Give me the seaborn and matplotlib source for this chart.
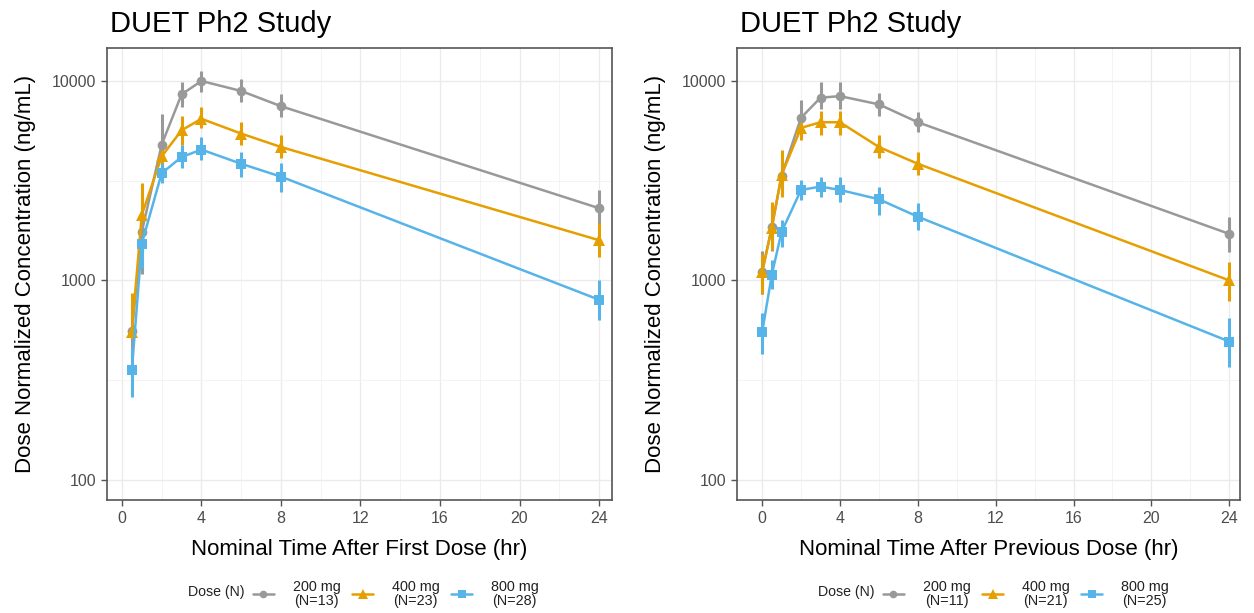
import numpy as np
import pandas as pd
import matplotlib
matplotlib.use("Agg")
import matplotlib.pyplot as plt
from matplotlib.lines import Line2D
from matplotlib.ticker import FixedLocator, NullFormatter
import seaborn as sns

# ---- data -------------------------------------------------------------
doses = ["200 mg", "400 mg", "800 mg"]

# First dose (left panel)
time_first = [0.5, 1, 2, 3, 4, 6, 8, 24]
first_200_mean = [560, 1750, 4790, 8550, 9980, 8890, 7460, 2300]
first_200_lo = [420, 1080, 3400, 7350, 8750, 7800, 6550, 1900]
first_200_hi = [780, 2700, 6790, 9870, 11200, 10170, 8550, 2840]
first_400_mean = [553, 2130, 4180, 5650, 6450, 5440, 4660, 1590]
first_400_lo = [510, 1500, 3700, 4790, 5830, 4790, 4120, 1310]
first_400_hi = [860, 3080, 4680, 6630, 7350, 6250, 5380, 1940]
first_800_mean = [356, 1530, 3445, 4150, 4520, 3840, 3310, 800]
first_800_lo = [260, 1160, 3080, 3650, 4020, 3300, 2780, 630]
first_800_hi = [460, 1850, 3870, 4790, 5200, 4420, 3880, 1000]
n_first = ["N=13", "N=23", "N=28"]

# Previous dose (right panel)
time_prev = [0, 0.5, 1, 2, 3, 4, 6, 8, 24]
prev_200_mean = [1100, 1850, 3350, 6530, 8230, 8380, 7620, 6200, 1710]
prev_200_lo = [850, 1400, 2700, 5500, 7200, 7200, 6650, 5570, 1380]
prev_200_hi = [1400, 2400, 4200, 8060, 9830, 9830, 8700, 6940, 2080]
prev_400_mean = [1100, 1840, 3380, 5810, 6200, 6200, 4660, 3840, 1000]
prev_400_lo = [850, 1420, 2620, 5080, 5380, 5380, 4120, 3380, 790]
prev_400_hi = [1350, 2470, 4520, 6400, 7030, 7030, 5380, 4420, 1230]
prev_800_mean = [549, 1070, 1750, 2840, 2950, 2840, 2550, 2085, 494]
prev_800_lo = [430, 910, 1470, 2530, 2620, 2470, 2130, 1790, 370]
prev_800_hi = [690, 1260, 2010, 3190, 3300, 3280, 2940, 2440, 650]
n_prev = ["N=11", "N=21", "N=25"]

colors = {"200 mg": "#999999", "400 mg": "#E69F00", "800 mg": "#56B4E9"}
markers = {"200 mg": "o", "400 mg": "^", "800 mg": "s"}
msizes = {"200 mg": 7, "400 mg": 8, "800 mg": 7}


def long_table(times, means, los, his):
    rows = []
    for dose, m, lo, hi in zip(doses, means, los, his):
        for t, v, a, b in zip(times, m, lo, hi):
            rows.append({"time": t, "conc": v, "lo": a, "hi": b, "dose": dose})
    return pd.DataFrame(rows)


df_first = long_table(
    time_first,
    [first_200_mean, first_400_mean, first_800_mean],
    [first_200_lo, first_400_lo, first_800_lo],
    [first_200_hi, first_400_hi, first_800_hi],
)
df_prev = long_table(
    time_prev,
    [prev_200_mean, prev_400_mean, prev_800_mean],
    [prev_200_lo, prev_400_lo, prev_800_lo],
    [prev_200_hi, prev_400_hi, prev_800_hi],
)

# ---- style ------------------------------------------------------------
sns.set_theme(style="whitegrid")
plt.rcParams["font.family"] = ["Liberation Sans", "DejaVu Sans"]

W, H = 1254, 613
fig = plt.figure(figsize=(W / 100, H / 100), dpi=100)


def px_axes(x0, x1, y0, y1):
    return fig.add_axes([x0 / W, 1 - y1 / H, (x1 - x0) / W, (y1 - y0) / H])


def draw_panel(ax, df, xlim, xlabel):
    for dose in doses:
        sub = df[df["dose"] == dose]
        ax.vlines(sub["time"], sub["lo"], sub["hi"], color=colors[dose],
                  linewidth=2.2, zorder=3)
    for dose in doses:
        sub = df[df["dose"] == dose]
        sns.lineplot(data=sub, x="time", y="conc", color=colors[dose],
                     marker=markers[dose], markersize=msizes[dose],
                     markeredgewidth=0, linewidth=1.8, ax=ax, legend=False,
                     zorder=4, errorbar=None)
    ax.set_yscale("log")
    ax.set_ylim(79.4, 14600)
    ax.set_xlim(*xlim)
    ax.yaxis.set_major_locator(FixedLocator([100, 1000, 10000]))
    ax.set_yticklabels(["100", "1000", "10000"])
    ax.yaxis.set_minor_locator(FixedLocator([10 ** 2.5, 10 ** 3.5]))
    ax.yaxis.set_minor_formatter(NullFormatter())
    ax.xaxis.set_major_locator(FixedLocator([0, 4, 8, 12, 16, 20, 24]))
    ax.xaxis.set_minor_locator(FixedLocator([2, 6, 10, 14, 18, 22]))
    ax.grid(True, which="major", color="#EBEBEB", linewidth=1.0)
    ax.grid(True, which="minor", color="#F3F3F3", linewidth=0.7)
    ax.set_facecolor("white")
    for sp in ax.spines.values():
        sp.set_color("#555555")
        sp.set_linewidth(1.2)
    ax.tick_params(which="major", length=4, width=1, color="#555555",
                   labelsize=11.5, labelcolor="#4D4D4D", pad=4,
                   bottom=True, left=True)
    ax.tick_params(which="minor", length=0)
    ax.set_xlabel(xlabel, fontsize=16, color="black", labelpad=9)
    ax.set_ylabel("Dose Normalized Concentration (ng/mL)", fontsize=16,
                  color="black", labelpad=11)


ax1 = px_axes(107, 612, 48, 500)
draw_panel(ax1, df_first, (-0.75, 24.65), "Nominal Time After First Dose (hr)")
ax2 = px_axes(737, 1240, 48, 500)
draw_panel(ax2, df_prev, (-1.29, 24.55), "Nominal Time After Previous Dose (hr)")

# Titles
for x0 in (110, 740):
    fig.text(x0 / W, 1 - 32 / H, "DUET Ph2 Study", fontsize=21,
             ha="left", va="baseline", color="black")


# Legends below each panel
def bottom_legend(x_title, x_handles, nlabels):
    fig.text(x_title / W, 1 - 592 / H, "Dose (N)", fontsize=10.2,
             ha="left", va="center", color="#222222")
    handles = [Line2D([0], [0], color=colors[d], marker=markers[d],
                      markersize=msizes[d] - 1.5, markeredgewidth=0,
                      linewidth=1.8) for d in doses]
    labels = [f"{d}\n({n})" for d, n in zip(doses, nlabels)]
    leg = fig.legend(handles, labels, loc="center left",
                     bbox_to_anchor=(x_handles / W, 1 - 594 / H), ncol=3,
                     frameon=False, fontsize=10.4, handlelength=1.45,
                     handletextpad=1.3, columnspacing=0.8, borderpad=0,
                     borderaxespad=0, labelspacing=0.1)
    for t in leg.get_texts():
        t.set_multialignment("center")
        t.set_linespacing(1.02)
        t.set_color("#222222")


bottom_legend(188, 253, n_first)
bottom_legend(818, 883, n_prev)

fig.savefig("out.png", dpi=100, facecolor="white")
